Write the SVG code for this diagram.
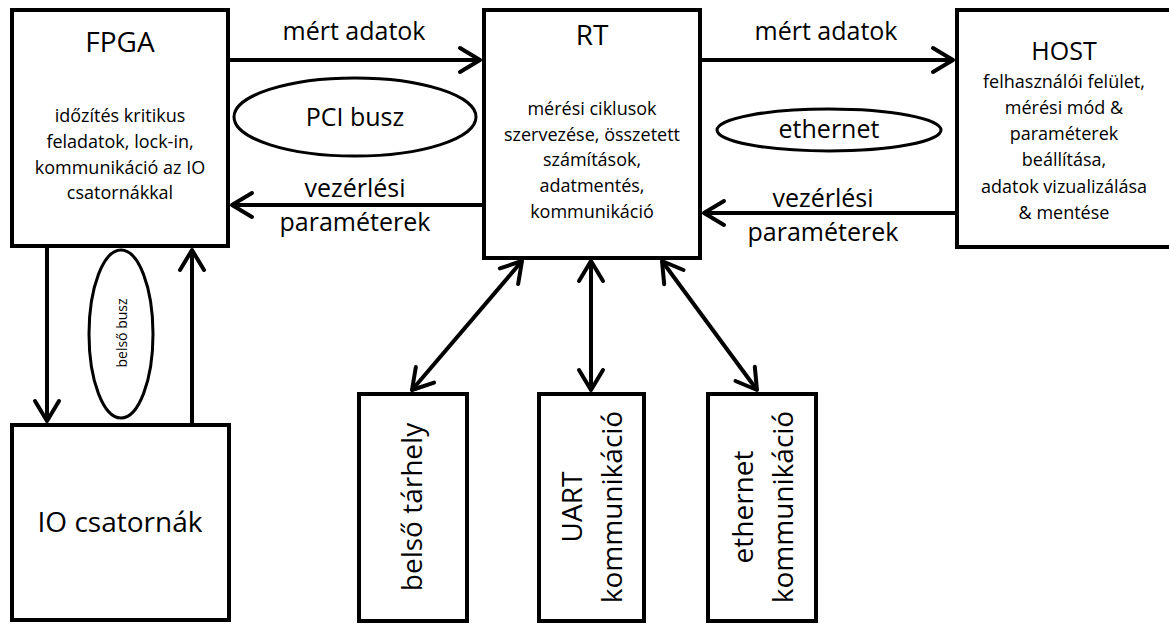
<svg xmlns="http://www.w3.org/2000/svg" width="1169" height="624" viewBox="0 0 1169 624">
  <style>
    .box { fill: #ffffff; stroke: #000000; stroke-width: 4; }
    .bus { fill: #ffffff; stroke: #000000; stroke-width: 3; }
    .wire { fill: none; stroke: #000000; stroke-width: 4; }
    text { font-family: "Open Sans", "Liberation Sans", sans-serif; fill: #000000; text-anchor: middle; }
    .title { font-size: 28px; }
    .body { font-size: 18px; }
    .lbl { font-size: 25px; }
    .big { font-size: 28px; }
    .small { font-size: 14px; }
  </style>
  <defs>
    <marker id="chevron" markerUnits="userSpaceOnUse" markerWidth="40" markerHeight="40" refX="0" refY="0" orient="auto-start-reverse" overflow="visible">
      <path d="M-20,-12 L0,0 L-20,12" fill="none" stroke="#000000" stroke-width="4" stroke-linecap="round" stroke-linejoin="round"/>
    </marker>
  </defs>
  <rect width="1169" height="624" fill="#ffffff"/>

  <!-- connectors -->
  <g id="connectors">
    <line class="wire" x1="230" y1="60" x2="480" y2="60" marker-end="url(#chevron)"/>
    <line class="wire" x1="702" y1="60" x2="953" y2="60" marker-end="url(#chevron)"/>
    <line class="wire" x1="482" y1="205" x2="232" y2="205" marker-end="url(#chevron)"/>
    <line class="wire" x1="955" y1="213" x2="704" y2="213" marker-end="url(#chevron)"/>
    <line class="wire" x1="47" y1="248" x2="47" y2="421" marker-end="url(#chevron)"/>
    <line class="wire" x1="192" y1="423" x2="192" y2="250" marker-end="url(#chevron)"/>
    <line class="wire" x1="412" y1="390" x2="522" y2="261" marker-start="url(#chevron)" marker-end="url(#chevron)"/>
    <line class="wire" x1="591" y1="390" x2="591" y2="261" marker-start="url(#chevron)" marker-end="url(#chevron)"/>
    <line class="wire" x1="757" y1="390" x2="662" y2="261" marker-start="url(#chevron)" marker-end="url(#chevron)"/>
  </g>

  <!-- connector labels -->
  <g id="labels">
    <text class="lbl" x="354" y="40">mért adatok</text>
    <text class="lbl" x="355" y="197">vezérlési</text>
    <text class="lbl" x="355" y="231">paraméterek</text>
    <text class="lbl" x="826" y="40">mért adatok</text>
    <text class="lbl" x="823" y="207">vezérlési</text>
    <text class="lbl" x="823" y="241">paraméterek</text>
  </g>

  <g id="pci-bus">
    <ellipse class="bus" cx="355" cy="117" rx="121" ry="39"/>
    <text class="lbl" x="355" y="126">PCI busz</text>
  </g>

  <g id="ethernet-bus">
    <ellipse class="bus" cx="829" cy="130" rx="112" ry="21"/>
    <text class="lbl" x="829" y="138">ethernet</text>
  </g>

  <g id="internal-bus">
    <ellipse class="bus" cx="121" cy="334" rx="32" ry="84"/>
    <text class="small" transform="translate(127,333) rotate(-90)">belső busz</text>
  </g>

  <g id="fpga">
    <rect class="box" x="12" y="10" width="216" height="236"/>
    <text class="title" x="120" y="52">FPGA</text>
    <text class="body" x="120" y="122">időzítés kritikus</text>
    <text class="body" x="120" y="148">feladatok, lock-in,</text>
    <text class="body" x="120" y="174">kommunikáció az IO</text>
    <text class="body" x="120" y="199">csatornákkal</text>
  </g>

  <g id="rt">
    <rect class="box" x="484" y="10" width="216" height="248"/>
    <text class="title" x="592" y="45">RT</text>
    <text class="body" x="592" y="115">mérési ciklusok</text>
    <text class="body" x="592" y="141">szervezése, összetett</text>
    <text class="body" x="592" y="166">számítások,</text>
    <text class="body" x="592" y="192">adatmentés,</text>
    <text class="body" x="592" y="218">kommunikáció</text>
  </g>

  <g id="host">
    <rect class="box" x="957" y="10" width="220" height="237"/>
    <text class="lbl" x="1064" y="60">HOST</text>
    <text class="body" x="1064" y="88">felhasználói felület,</text>
    <text class="body" x="1064" y="114">mérési mód &amp;</text>
    <text class="body" x="1064" y="140">paraméterek</text>
    <text class="body" x="1064" y="166">beállítása,</text>
    <text class="body" x="1064" y="193">adatok vizualizálása</text>
    <text class="body" x="1064" y="219">&amp; mentése</text>
  </g>

  <g id="io">
    <rect class="box" x="12" y="425" width="217" height="195"/>
    <text class="big" x="120" y="532">IO csatornák</text>
  </g>

  <g id="storage">
    <rect class="box" x="359" y="394" width="108" height="227"/>
    <text class="big" transform="translate(422,507) rotate(-90)">belső tárhely</text>
  </g>

  <g id="uart">
    <rect class="box" x="539" y="394" width="105" height="227"/>
    <text class="big" transform="translate(582,507) rotate(-90)">UART</text>
    <text class="big" transform="translate(622,507) rotate(-90)">kommunikáció</text>
  </g>

  <g id="ethernet-comm">
    <rect class="box" x="708" y="394" width="108" height="227"/>
    <text class="big" transform="translate(753,507) rotate(-90)">ethernet</text>
    <text class="big" transform="translate(793,507) rotate(-90)">kommunikáció</text>
  </g>
</svg>
